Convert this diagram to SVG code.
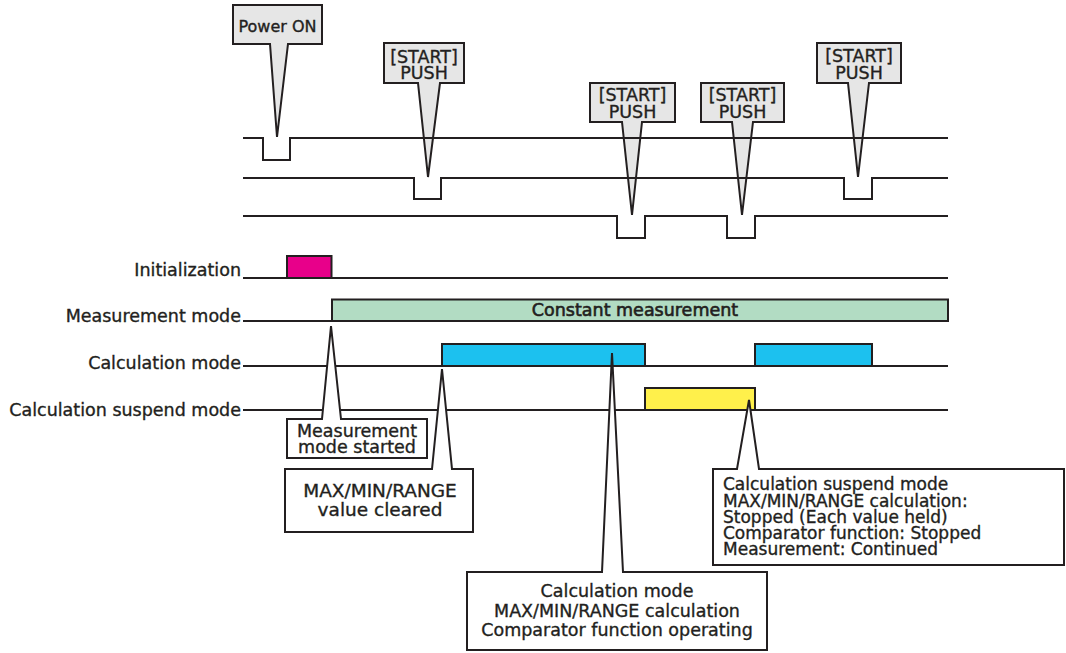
<svg xmlns="http://www.w3.org/2000/svg" width="1066" height="653" viewBox="0 0 1066 653">
<style>
text{font-family:"DejaVu Sans","Liberation Sans",sans-serif;fill:#231f20;stroke:#231f20;stroke-width:0.35}
.sig{fill:none;stroke:#231f20;stroke-width:2}
.co{fill:#e6e6e6;stroke:#231f20;stroke-width:2;stroke-linejoin:miter}
.cw{fill:#fff;stroke:#231f20;stroke-width:2;stroke-linejoin:miter}
.bx{stroke:#231f20;stroke-width:2}
.t16{font-size:16px}
.t17{font-size:17.5px}
.c{text-anchor:middle}
.e{text-anchor:end}
</style>
<rect width="1066" height="653" fill="#fff"/>
<!-- top callouts -->
<g id="power-on">
<path class="co" d="M233,5 H322 V44 H288 L277,137 L270,44 H233 Z"/>
<text class="t16 c" x="277.5" y="32">Power ON</text>
</g>
<g id="start-push-1">
<path class="co" d="M384,43 H464 V83 H440 L428,177 L418,83 H384 Z"/>
<text class="t17 c" x="424" y="62.5">[START]</text>
<text class="t17 c" x="424" y="79">PUSH</text>
</g>
<g id="start-push-2">
<path class="co" d="M590,83 H675 V122 H642 L632,215 L622,122 H590 Z"/>
<text class="t17 c" x="632.5" y="101">[START]</text>
<text class="t17 c" x="632.5" y="118">PUSH</text>
</g>
<g id="start-push-3">
<path class="co" d="M701,83 H784 V122 H753 L742,215 L732,122 H701 Z"/>
<text class="t17 c" x="742.5" y="101">[START]</text>
<text class="t17 c" x="742.5" y="118">PUSH</text>
</g>
<g id="start-push-4">
<path class="co" d="M817,43 H901 V83 H869 L858,177 L848,83 H817 Z"/>
<text class="t17 c" x="859" y="62">[START]</text>
<text class="t17 c" x="859" y="78.5">PUSH</text>
</g>
<!-- signal lines -->
<g id="connectors">
<path class="sig" d="M243,138 H263 V160 H290 V138 H948"/>
<path class="sig" d="M243,178 H414 V199 H441 V178 H844 V199 H872 V178 H948"/>
<path class="sig" d="M243,216 H617 V238 H645 V216 H727 V238 H755 V216 H948"/>
<path class="sig" d="M243,278 H948"/>
<path class="sig" d="M243,321 H332"/>
<path class="sig" d="M243,366 H948"/>
<path class="sig" d="M243,410 H948"/>
</g>
<!-- rows -->
<g id="initialization">
<text class="t17 e" x="241" y="276">Initialization</text>
<rect class="bx" x="287" y="256" width="44.5" height="22" fill="#e8008a"/>
</g>
<g id="measurement-mode">
<text class="t17 e" x="241" y="322">Measurement mode</text>
<rect class="bx" x="332" y="299.5" width="616" height="21.5" fill="#b2dcc3"/>
<text class="c" x="635" y="316" font-size="17.5" style="stroke-width:0.6">Constant measurement</text>
</g>
<g id="calculation-mode">
<text class="t17 e" x="241" y="369">Calculation mode</text>
<rect class="bx" x="442" y="344" width="203" height="22" fill="#1cc1ef"/>
<rect class="bx" x="755" y="344" width="117" height="22" fill="#1cc1ef"/>
</g>
<g id="calculation-suspend-mode">
<text class="t17 e" x="241" y="416">Calculation suspend mode</text>
<rect class="bx" x="645" y="388" width="110" height="22" fill="#fff04b"/>
</g>
<!-- bottom callouts -->
<g id="measurement-mode-started">
<path class="cw" d="M287,419 H322 L331,326 L341,419 H427 V458 H287 Z"/>
<text class="t17 c" x="357" y="436.5">Measurement</text>
<text class="t17 c" x="357" y="453">mode started</text>
</g>
<g id="value-cleared">
<path class="cw" d="M285,469 H432 L442,369 L452,469 H473 V532 H285 Z"/>
<text class="c" x="380" y="496.5" font-size="18.5">MAX/MIN/RANGE</text>
<text class="c" x="380" y="516" font-size="18.5">value cleared</text>
</g>
<g id="calc-mode-note">
<path class="cw" d="M467,572 H602 L612,353 L623,572 H767 V650 H467 Z"/>
<text class="c" x="617" y="597" font-size="17.5">Calculation mode</text>
<text class="c" x="617" y="617" font-size="17.5">MAX/MIN/RANGE calculation</text>
<text class="c" x="617" y="636" font-size="17.5">Comparator function operating</text>
</g>
<g id="suspend-note">
<path class="cw" d="M713,469 H737 L749,400 L759,469 H1064 V565 H713 Z"/>
<text x="723" y="490" font-size="17">Calculation suspend mode</text>
<text x="723" y="506.5" font-size="17">MAX/MIN/RANGE calculation:</text>
<text x="723" y="523" font-size="17">Stopped (Each value held)</text>
<text x="723" y="539" font-size="17">Comparator function: Stopped</text>
<text x="723" y="555" font-size="17">Measurement: Continued</text>
</g>
</svg>
